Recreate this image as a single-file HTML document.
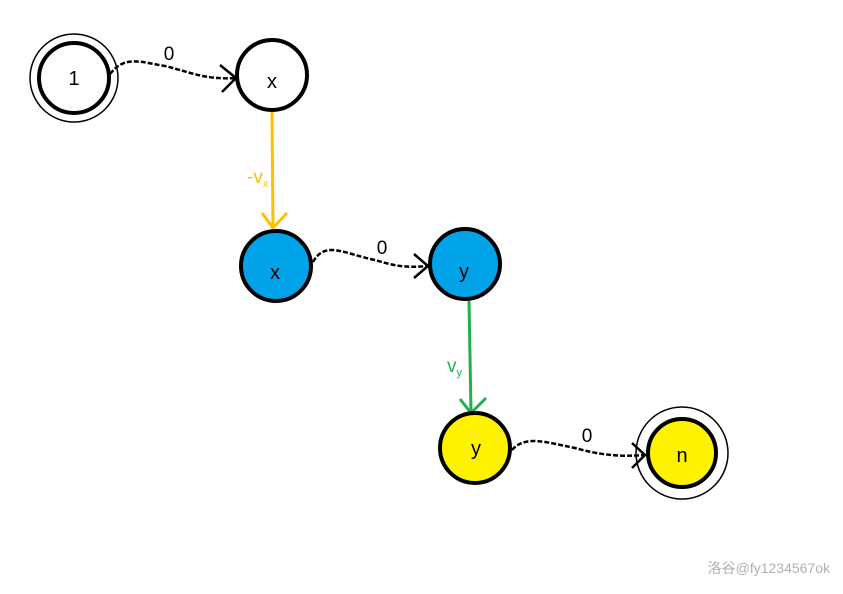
<!DOCTYPE html>
<html><head><style>html,body{margin:0;padding:0;background:#fff}</style></head>
<body>
<svg width="843" height="589" xmlns="http://www.w3.org/2000/svg" font-family="Liberation Sans, sans-serif">
<rect width="843" height="589" fill="#fff"/>
<g fill="none" stroke="#000" stroke-width="2.5">
<path d="M110,74 C125,55 140,62 165,66 C190,72 205,80 236,78" stroke-dasharray="5,2"/>
<path d="M220,65 L236,78 L222,92"/>
<path d="M313,262 C325,240 345,254 375,260 C395,266 405,268 428,266" stroke-dasharray="5,2"/>
<path d="M414,254 L428,266 L414,278"/>
<path d="M512,450 C525,435 545,442 575,448 C600,455 620,457 645,455" stroke-dasharray="5,2"/>
<path d="M632,443 L645,455 L632,468"/>
</g>
<g fill="none" stroke="#ffc000" stroke-width="3">
<path d="M272,111 L273,228"/>
<path d="M262,213 L273,228 L287,213"/>
</g>
<g fill="none" stroke="#22b14c" stroke-width="3">
<path d="M469,300 L471,413"/>
<path d="M460,399 L471,413 L486,398"/>
</g>
<g stroke="#000">
<circle cx="74" cy="78" r="44" fill="none" stroke-width="1.5"/>
<circle cx="74" cy="78" r="35" fill="#fff" stroke-width="4"/>
<circle cx="272" cy="75" r="35" fill="#fff" stroke-width="4"/>
<circle cx="276" cy="266" r="35" fill="#00a2e8" stroke-width="4"/>
<circle cx="465" cy="264" r="35" fill="#00a2e8" stroke-width="4"/>
<circle cx="475" cy="448" r="35" fill="#fff200" stroke-width="4"/>
<circle cx="682" cy="453" r="46" fill="none" stroke-width="1.5"/>
<circle cx="682" cy="453" r="34" fill="#fff200" stroke-width="4"/>
</g>
<g font-size="20" text-anchor="middle" fill="#000">
<text x="74" y="85">1</text>
<text x="272" y="88">x</text>
<text x="275" y="279">x</text>
<text x="464" y="278">y</text>
<text x="476" y="455">y</text>
<text x="682" y="462">n</text>
<text x="169" y="60" font-size="19">0</text>
<text x="382" y="254" font-size="19">0</text>
<text x="587" y="442" font-size="19">0</text>
</g>
<text x="247" y="183" font-size="19" fill="#ffc000">-v<tspan font-size="11" dy="4">x</tspan></text>
<text x="447" y="372" font-size="19" fill="#22b14c">v<tspan font-size="11" dy="4">y</tspan></text>
<text x="830" y="573" font-size="14" text-anchor="end" fill="#b0b0b0" font-family="Liberation Sans, Noto Sans CJK SC, sans-serif">洛谷@fy1234567ok</text>
</svg>
</body></html>
